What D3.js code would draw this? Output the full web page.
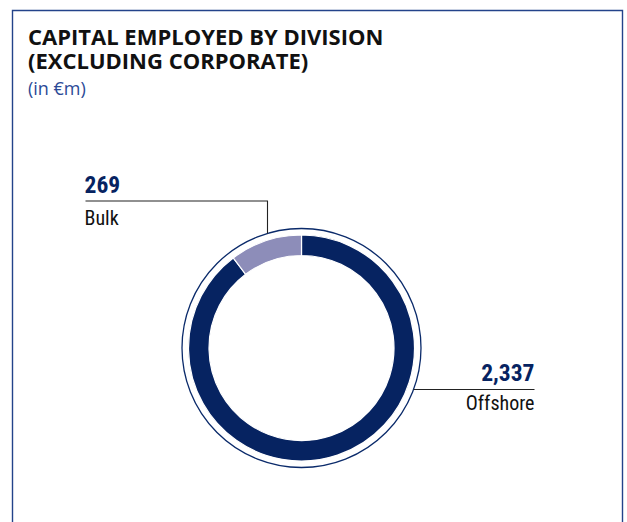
<!DOCTYPE html>
<html>
<head>
<meta charset="utf-8">
<script src="https://cdn.jsdelivr.net/npm/d3@7/dist/d3.min.js"></script>
<style>
  html, body { margin: 0; padding: 0; background: #fff; }
  svg { display: block; }
</style>
</head>
<body>
<svg id="chart" width="627" height="522"></svg>
<script>
// Capital employed by division, in € millions
const divisions = ["Offshore", "Bulk"];
const values = [2337, 269];
const valueLabels = ["2,337", "269"];
const colors = ["#062361", "#8d8db9"];

const svg = d3.select("#chart");

// panel frame (open at the bottom edge)
svg.append("path")
  .attr("d", "M12.5,530 L12.5,10.5 L622.5,10.5 L622.5,530")
  .attr("fill", "none")
  .attr("stroke", "#23438a")
  .attr("stroke-width", 1.4);

// title block
const titleFont = "'Open Sans', 'DejaVu Sans', sans-serif";
const titleLines = ["CAPITAL EMPLOYED BY DIVISION", "(EXCLUDING CORPORATE)"];
svg.append("text")
  .attr("font-family", titleFont).attr("font-weight", 700)
  .attr("font-size", 22).attr("fill", "#111")
  .selectAll("tspan")
  .data(titleLines)
  .join("tspan")
  .attr("x", 28)
  .attr("y", (d, i) => 45 + i * 23.5)
  .text(d => d);
svg.append("text")
  .attr("x", 28).attr("y", 95)
  .attr("font-family", titleFont).attr("font-weight", 400)
  .attr("font-size", 18).attr("fill", "#2b4a97")
  .text("(in €m)");

// donut
const cx = 301.5, cy = 348;
const rOuter = 113, rInner = 92.5, rRing = 119.5;

const pie = d3.pie().sort(null).value(d => d);
const arc = d3.arc().innerRadius(rInner).outerRadius(rOuter);
const arcs = pie(values);

const g = svg.append("g").attr("transform", `translate(${cx},${cy})`);

g.append("circle")
  .attr("r", rRing)
  .attr("fill", "none")
  .attr("stroke", "#0a2a6a")
  .attr("stroke-width", 1.3);

g.selectAll("path.slice")
  .data(arcs)
  .join("path")
  .attr("class", "slice")
  .attr("d", arc)
  .attr("fill", (d, i) => colors[i])
  .attr("stroke", "#fff")
  .attr("stroke-width", 1.2);

// callouts
const labelFont = "'Liberation Sans Narrow', 'Roboto Condensed', Roboto, sans-serif";
const lineColor = "#222";

// point on the outer ring at a given x (top half) or y (right half)
function ringYAt(x) { const dx = x - cx; return cy - Math.sqrt(rRing * rRing - dx * dx); }
function ringXAt(y) { const dy = y - cy; return cx + Math.sqrt(rRing * rRing - dy * dy); }

// Bulk: label top-left, elbow leader down to the ring
const bulkIdx = 1;
const bulkLineY = 201, bulkLineX = 267.5, bulkX = 85.5;
svg.append("path")
  .attr("d", `M${bulkX},${bulkLineY} H${bulkLineX} V${ringYAt(bulkLineX)}`)
  .attr("fill", "none").attr("stroke", lineColor).attr("stroke-width", 1.1);
svg.append("text")
  .attr("x", bulkX - 1).attr("y", 192.5)
  .attr("font-family", labelFont).attr("font-weight", 700)
  .attr("font-size", 23.5).attr("fill", colors[0])
  .text(valueLabels[bulkIdx]);
svg.append("text")
  .attr("x", bulkX - 1).attr("y", 224.5)
  .attr("font-family", labelFont).attr("font-weight", 400)
  .attr("font-size", 20).attr("fill", "#111")
  .text(divisions[bulkIdx]);

// Offshore: label right, straight leader from the ring
const offIdx = 0;
const offLineY = 389.5, offRight = 534.5;
svg.append("path")
  .attr("d", `M${ringXAt(offLineY)},${offLineY} H${offRight}`)
  .attr("fill", "none").attr("stroke", lineColor).attr("stroke-width", 1.1);
svg.append("text")
  .attr("x", offRight).attr("y", 381)
  .attr("text-anchor", "end")
  .attr("font-family", labelFont).attr("font-weight", 700)
  .attr("font-size", 23.5).attr("fill", colors[0])
  .text(valueLabels[offIdx]);
svg.append("text")
  .attr("x", offRight).attr("y", 410)
  .attr("text-anchor", "end")
  .attr("font-family", labelFont).attr("font-weight", 400)
  .attr("font-size", 20).attr("fill", "#111")
  .text(divisions[offIdx]);
</script>
</body>
</html>
